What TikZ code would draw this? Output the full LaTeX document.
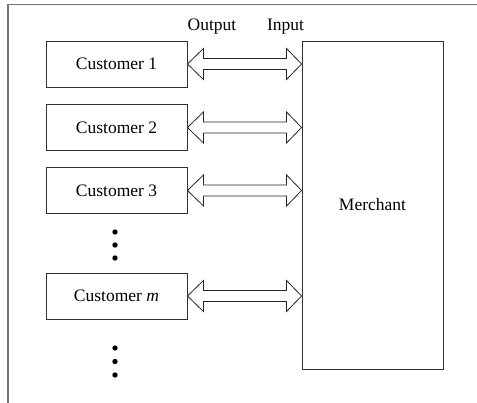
\documentclass[tikz,border=0pt]{standalone}
\usepackage{fontspec}
\setmainfont{Liberation Serif}
\usetikzlibrary{calc}
\begin{document}
\begin{tikzpicture}[x=1pt,y=-1pt,
  txt/.style={font=\fontsize{17.5}{20}\selectfont},
  lbl/.style={txt, inner sep=0pt},
  custbox/.style={txt, draw=black!80, line width=0.9pt, minimum width=141pt,
    minimum height=46pt, inner sep=0pt},
  frameline/.style={draw=black!55, line width=1.3pt},
  blockarrow/.style={draw=black!85, line width=0.8pt, fill=white, line join=miter},
  dotmark/.style={circle, fill=black, inner sep=0pt, minimum size=5.4pt}]
\useasboundingbox (0,0) rectangle (477,403);

% frame along the top and left edges
\coordinate (tl) at (8,4.5);
\coordinate (tr) at (477,4.5);
\coordinate (bl) at (8,403);
\draw[frameline] (tr) -- (tl) -- (bl);

% customers and the merchant
\node[custbox] (c1) at (116.5,64)    {Customer 1};
\node[custbox] (c2) at (116.5,127.5) {Customer 2};
\node[custbox] (c3) at (116.5,190.5) {Customer 3};
\node[custbox] (cm) at (116.5,296)   {Customer \textit{m}};
\node[custbox, minimum height=328pt] (merch) at (372.5,205) {Merchant};

% port labels
\node[lbl] (out) at (212,27) {Output};
\node[lbl] (in)  at (285.5,27) {Input};

% ellipses between and after the customers
\node[dotmark] (d1) at (115,232) {};
\node[dotmark] (d2) at (115,245) {};
\node[dotmark] (d3) at (115,258) {};
\node[dotmark] (e1) at (115,348) {};
\node[dotmark] (e2) at (115,361.5) {};
\node[dotmark] (e3) at (115,375) {};

% double-headed block arrows between each customer and the merchant
\newcommand\duplexlink[1]{%
  \draw[blockarrow] (#1.east) -- ++(16,-15.5) -- ++(0,10)
    -- ($(merch.west |- #1.east)+(-15,-5.5)$) -- ++(0,-10)
    -- (merch.west |- #1.east) -- ++(-15,15.5) -- ++(0,-10)
    -- ($(#1.east)+(16,5.5)$) -- ++(0,10) -- cycle;}
\duplexlink{c1}
\duplexlink{c2}
\duplexlink{c3}
\duplexlink{cm}
\end{tikzpicture}
\end{document}
